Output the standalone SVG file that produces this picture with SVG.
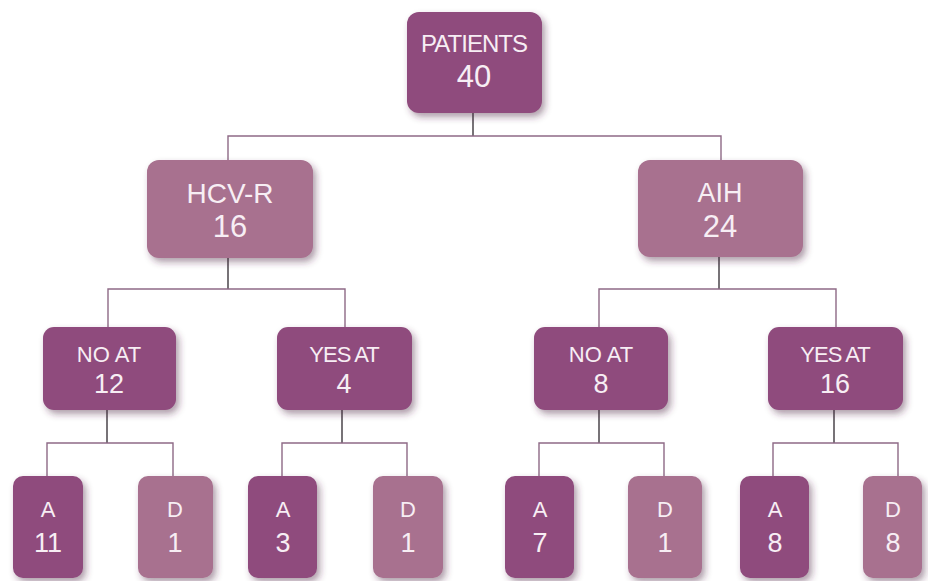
<svg xmlns="http://www.w3.org/2000/svg" width="928" height="581" viewBox="0 0 928 581">
<defs>
<filter id="sh" x="-20%" y="-20%" width="150%" height="150%">
<feDropShadow dx="3" dy="4" stdDeviation="3.5" flood-color="#4a2040" flood-opacity="0.45"/>
</filter>
</defs>
<style>
.dark{fill:#8f4b7d;filter:url(#sh)}
.light{fill:#a8718f;filter:url(#sh)}
.t{font-family:"Liberation Sans",Arial,sans-serif;fill:#f7eef4;text-anchor:middle}
.stem{stroke:#555055;stroke-width:1.6;fill:none}
.br{stroke:#8e6a86;stroke-width:1.4;fill:none}
</style>
<rect width="928" height="581" fill="#ffffff"/>
<g id="connectors">
<path class="stem" d="M473 113V136"/>
<path class="br" d="M228 160V136H721V160"/>
<path class="stem" d="M228 258V289"/>
<path class="br" d="M108 327V289H345V327"/>
<path class="stem" d="M719 257V289"/>
<path class="br" d="M599 327V289H836V327"/>
<path class="stem" d="M107 410V443"/>
<path class="br" d="M47 476V443H173V476"/>
<path class="stem" d="M342 410V443"/>
<path class="br" d="M282 476V443H407V476"/>
<path class="stem" d="M599 410V443"/>
<path class="br" d="M539 476V443H664V476"/>
<path class="stem" d="M834 410V443"/>
<path class="br" d="M773 476V443H898V476"/>
</g>
<g id="patients">
<rect class="dark" x="407" y="12" width="135" height="101" rx="12"/>
<text class="t" x="474" y="52" font-size="24" letter-spacing="-1">PATIENTS</text>
<text class="t" x="474" y="87" font-size="31">40</text>
</g>
<g id="hcvr">
<rect class="light" x="147" y="160" width="166" height="98" rx="12"/>
<text class="t" x="230" y="203" font-size="28">HCV-R</text>
<text class="t" x="230" y="237" font-size="31">16</text>
</g>
<g id="aih">
<rect class="light" x="638" y="160" width="165" height="97" rx="12"/>
<text class="t" x="720" y="202" font-size="27">AIH</text>
<text class="t" x="720" y="237" font-size="31">24</text>
</g>
<g id="noat1">
<rect class="dark" x="43" y="327" width="133" height="83" rx="11"/>
<text class="t" x="109" y="362" font-size="22">NO AT</text>
<text class="t" x="109" y="393" font-size="27">12</text>
</g>
<g id="yesat1">
<rect class="dark" x="277" y="327" width="135" height="83" rx="11"/>
<text class="t" x="344" y="362" font-size="22" letter-spacing="-1">YES AT</text>
<text class="t" x="344" y="393" font-size="27">4</text>
</g>
<g id="noat2">
<rect class="dark" x="534" y="327" width="134" height="83" rx="11"/>
<text class="t" x="601" y="362" font-size="22">NO AT</text>
<text class="t" x="601" y="393" font-size="27">8</text>
</g>
<g id="yesat2">
<rect class="dark" x="768" y="327" width="135" height="83" rx="11"/>
<text class="t" x="835" y="362" font-size="22" letter-spacing="-1">YES AT</text>
<text class="t" x="835" y="393" font-size="27">16</text>
</g>
<g id="a11">
<rect class="dark" x="13" y="476" width="70" height="102" rx="10"/>
<text class="t" x="48" y="517" font-size="22">A</text>
<text class="t" x="48" y="552" font-size="27">11</text>
</g>
<g id="d1a">
<rect class="light" x="138" y="476" width="75" height="102" rx="10"/>
<text class="t" x="175" y="517" font-size="22">D</text>
<text class="t" x="175" y="552" font-size="27">1</text>
</g>
<g id="a3">
<rect class="dark" x="248" y="476" width="69" height="102" rx="10"/>
<text class="t" x="283" y="517" font-size="22">A</text>
<text class="t" x="283" y="552" font-size="27">3</text>
</g>
<g id="d1b">
<rect class="light" x="373" y="476" width="70" height="102" rx="10"/>
<text class="t" x="408" y="517" font-size="22">D</text>
<text class="t" x="408" y="552" font-size="27">1</text>
</g>
<g id="a7">
<rect class="dark" x="505" y="476" width="69" height="102" rx="10"/>
<text class="t" x="540" y="517" font-size="22">A</text>
<text class="t" x="540" y="552" font-size="27">7</text>
</g>
<g id="d1c">
<rect class="light" x="628" y="476" width="74" height="102" rx="10"/>
<text class="t" x="665" y="517" font-size="22">D</text>
<text class="t" x="665" y="552" font-size="27">1</text>
</g>
<g id="a8">
<rect class="dark" x="740" y="476" width="69" height="102" rx="10"/>
<text class="t" x="775" y="517" font-size="22">A</text>
<text class="t" x="775" y="552" font-size="27">8</text>
</g>
<g id="d8">
<rect class="light" x="863" y="476" width="59" height="102" rx="10"/>
<text class="t" x="893" y="517" font-size="22">D</text>
<text class="t" x="893" y="552" font-size="27">8</text>
</g>
</svg>
